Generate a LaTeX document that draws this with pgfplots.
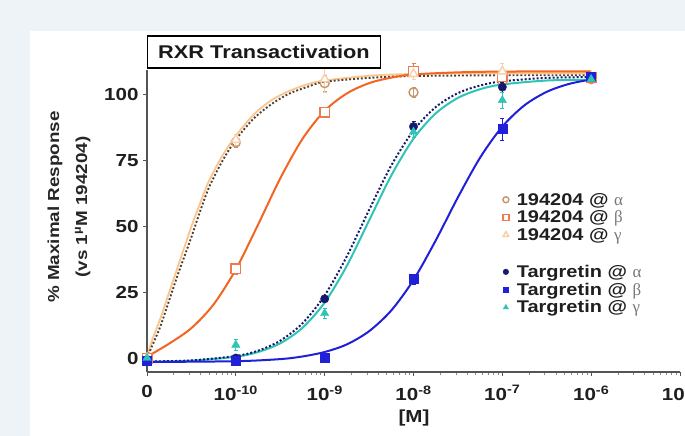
\documentclass[border=0pt]{standalone}
\usepackage{pgfplots}
\usepackage{pgfplotstable}
\pgfplotsset{compat=1.18}
\usepackage{fontspec}
\setmainfont{Liberation Sans}[FakeStretch=1.18]
\newfontfamily\greekfont{Liberation Serif}
\definecolor{bgblue}{HTML}{EEF3F8}
\definecolor{axisgray}{HTML}{555555}
\definecolor{tanc}{HTML}{C8946A}
\definecolor{dotbrown}{HTML}{4F4030}
\definecolor{orangec}{HTML}{F26522}
\definecolor{orangem}{HTML}{F07A50}
\definecolor{peach}{HTML}{FBC58C}
\definecolor{peachm}{HTML}{F7CFA8}
\definecolor{navyc}{HTML}{161A6E}
\definecolor{bluec}{HTML}{2020D8}
\definecolor{tealc}{HTML}{30C4B4}
\definecolor{greekgray}{HTML}{777777}

% ---- fitted curves (x = log10 [M]) ----
\pgfplotstableread{
lx y
-11 0
-10.95 4
-10.85 12
-10.75 22
-10.65 32
-10.5 46
-10.4 56
-10.3 65
-10.15 75
-10 83
-9.8 91
-9.6 96.5
-9.4 100.5
-9.2 103
-9 105
-8.5 106.5
-8 107.2
-7 107.5
-6 107.5
}\curveAa
\pgfplotstableread{
lx y
-11 0.5
-10.75 5.5
-10.5 11.4
-10.25 20.4
-10 33.7
-9.75 50.7
-9.5 68.3
-9.25 83.3
-9 94
-8.75 100.6
-8.5 104.5
-8.25 106.6
-8 107.8
-7.5 108.6
-7 108.9
-6 109
}\curveAb
\pgfplotstableread{
lx y
-11 0
-10.95 6
-10.85 15
-10.75 25
-10.65 35
-10.5 50
-10.4 59
-10.3 67.5
-10.15 77
-10 84.5
-9.8 92.5
-9.6 98
-9.4 101.5
-9.2 104
-9 105.5
-8.5 107.3
-8 108
-7 108.3
-6 108.3
}\curveAg
\pgfplotstableread{
lx y
-11 -1.3
-10.5 -0.9
-10 0.8
-9.75 2.8
-9.5 6.6
-9.25 13.2
-9 23.8
-8.75 38.7
-8.5 56.3
-8.25 73.2
-8 86.5
-7.75 95.4
-7.5 100.7
-7.25 103.6
-7 105.2
-6.5 106.5
-6 106.8
}\curveTa
\pgfplotstableread{
lx y
-11 -1.5
-10 -1.2
-9.5 -0.4
-9.25 0.6
-9 2.3
-8.75 5.2
-8.5 10.2
-8.25 18.1
-8 29.7
-7.75 44.7
-7.5 61.1
-7.25 76.2
-7 88
-6.75 96.1
-6.5 101.2
-6.25 104.2
-6 105.9
}\curveTb
\pgfplotstableread{
lx y
-11 -1.4
-10.5 -1
-10 0.5
-9.75 2.3
-9.5 5.6
-9.25 11.5
-9 21.1
-8.75 35.1
-8.5 52.3
-8.25 69.4
-8 83.4
-7.75 93
-7.5 98.9
-7.25 102.2
-7 104
-6.5 105.5
-6 105.8
}\curveTg

% ---- measured points ----
\pgfplotstableread{
lx y e
-11 0 0
-10 82 2
-9 104.5 3
-8 101 2
-7 105 2
-6 106 1
}\dataAa
\pgfplotstableread{
lx y e
-11 0 0
-10 34 2
-9 93.5 2
-8 109 3
-7 107 2
-6 106.5 1
}\dataAb
\pgfplotstableread{
lx y e
-11 0 0
-10 83 2
-9 106 5
-8 108 2
-7 109 3
-6 107 1
}\dataAg
\pgfplotstableread{
lx y e
-11 -1 0
-10 0 1
-9 22.5 1
-8 88 2
-7 103 2
-6 107 1
}\dataTa
\pgfplotstableread{
lx y e
-11 -1 0
-10 -1 0
-9 0 1
-8 30 2
-7 87 4
-6 107 1
}\dataTb
\pgfplotstableread{
lx y e
-11 0 0
-10 5 2
-9 17 2
-8 86 2
-7 98 3
-6 106 1
}\dataTg

\begin{document}
\begin{tikzpicture}
\fill[bgblue] (0,0) rectangle (685bp,436bp);
\fill[white] (30bp,0) rectangle (685bp,405bp);
\path[use as bounding box] (0,0) rectangle (685bp,436bp);
\begin{axis}[
  at={(147bp,64bp)}, anchor=south west,
  scale only axis, width=533bp, height=302bp,
  xmin=-11, xmax=-5, ymin=-5.3, ymax=109.5,
  axis x line=bottom, axis y line=left,
  axis line style={-, draw=axisgray, line width=1.1bp},
  xtick={-11,-10,-9,-8,-7,-6,-5},
  xticklabels={0,10\textsuperscript{-10},10\textsuperscript{-9},10\textsuperscript{-8},10\textsuperscript{-7},10\textsuperscript{-6},10\textsuperscript{-5}},
  minor xtick={-10.699,-10.523,-10.398,-10.301,-10.222,-10.155,-10.097,-10.046,
   -9.699,-9.523,-9.398,-9.301,-9.222,-9.155,-9.097,-9.046,
   -8.699,-8.523,-8.398,-8.301,-8.222,-8.155,-8.097,-8.046,
   -7.699,-7.523,-7.398,-7.301,-7.222,-7.155,-7.097,-7.046,
   -6.699,-6.523,-6.398,-6.301,-6.222,-6.155,-6.097,-6.046,
   -5.699,-5.523,-5.398,-5.301,-5.222,-5.155,-5.097,-5.046},
  ytick={0,25,50,75,100},
  yticklabels={0,25,50,75,100},
  tick align=outside,
  major tick length=4bp, minor tick length=2.5bp,
  every tick/.style={draw=axisgray, line width=1bp},
  minor tick style={draw=axisgray!70, line width=0.6bp},
  tick label style={font=\fontsize{17.5}{17.5}\selectfont\bfseries, text=black!88},
  xticklabel style={yshift=-6bp},
  yticklabel style={xshift=-1bp},
  clip=false,
  legend cell align=left,
  legend style={at={(0.657,0.6)}, anchor=north west, draw=none, fill=none,
    font=\fontsize{17}{17}\selectfont\bfseries, text=black!88,
    row sep=0bp, inner sep=0pt,
    /tikz/every odd column/.append style={column sep=6bp}},
]
% curves
\addplot[peach, line width=1.8bp, smooth, forget plot] table[x=lx,y=y]{\curveAg};
\addplot[dotbrown, line width=1.9bp, dotted, smooth, forget plot] table[x=lx,y=y]{\curveAa};
\addplot[orangec, line width=2bp, smooth, forget plot] table[x=lx,y=y]{\curveAb};
\addplot[tealc, line width=2bp, smooth, forget plot] table[x=lx,y=y]{\curveTg};
\addplot[navyc, line width=2bp, dotted, smooth, forget plot] table[x=lx,y=y]{\curveTa};
\addplot[bluec, line width=2bp, smooth, forget plot] table[x=lx,y=y]{\curveTb};
% points
\addplot[only marks, mark=o, mark size=4.5bp, mark options={draw=tanc, fill=white, line width=1.4bp},
  legend image post style={mark size=3bp},
  error bars/.cd, y dir=both, y explicit, error bar style={tanc, line width=1bp}, error mark options={rotate=90, mark size=2bp, tanc}]
  table[x=lx,y=y,y error=e]{\dataAa};
\addlegendentry{194204 @ {\greekfont\mdseries\color{greekgray}α}}
\addplot[only marks, mark=square*, mark size=4.8bp, mark options={draw=orangem, fill=white, line width=1.4bp},
  legend image post style={mark size=3bp},
  error bars/.cd, y dir=both, y explicit, error bar style={orangem, line width=1bp}, error mark options={rotate=90, mark size=2bp, orangem}]
  table[x=lx,y=y,y error=e]{\dataAb};
\addlegendentry{194204 @ {\greekfont\mdseries\color{greekgray}β}}
\addplot[only marks, mark=triangle*, mark size=5bp, mark options={draw=peachm, fill=white, line width=1.4bp},
  legend image post style={mark size=3.2bp},
  error bars/.cd, y dir=both, y explicit, error bar style={peachm, line width=1bp}, error mark options={rotate=90, mark size=2bp, peachm}]
  table[x=lx,y=y,y error=e]{\dataAg};
\addlegendentry{194204 @ {\greekfont\mdseries\color{greekgray}γ}}
\addlegendimage{empty legend}
\addlegendentry{\rule{0pt}{14bp}}
\addplot[only marks, mark=*, mark size=4.2bp, mark options={draw=navyc, fill=navyc},
  legend image post style={mark size=2.8bp},
  error bars/.cd, y dir=both, y explicit, error bar style={navyc, line width=1bp}, error mark options={rotate=90, mark size=2bp, navyc}]
  table[x=lx,y=y,y error=e]{\dataTa};
\addlegendentry{Targretin @ {\greekfont\mdseries\color{greekgray}α}}
\addplot[only marks, mark=square*, mark size=4.5bp, mark options={draw=bluec, fill=bluec},
  legend image post style={mark size=2.8bp},
  error bars/.cd, y dir=both, y explicit, error bar style={bluec, line width=1bp}, error mark options={rotate=90, mark size=2bp, bluec}]
  table[x=lx,y=y,y error=e]{\dataTb};
\addlegendentry{Targretin @ {\greekfont\mdseries\color{greekgray}β}}
\addplot[only marks, mark=triangle*, mark size=4.8bp, mark options={draw=tealc, fill=tealc},
  legend image post style={mark size=3bp},
  error bars/.cd, y dir=both, y explicit, error bar style={tealc, line width=1bp}, error mark options={rotate=90, mark size=2bp, tealc}]
  table[x=lx,y=y,y error=e]{\dataTg};
\addlegendentry{Targretin @ {\greekfont\mdseries\color{greekgray}γ}}
\end{axis}
% title box
\node[draw=black, line width=1.5bp, fill=white, minimum width=233bp, minimum height=32bp, inner sep=0pt,
  font=\fontsize{18.5}{18.5}\selectfont\bfseries, text=black!90] at (264bp,384bp) {RXR Transactivation};
% y label
\node[rotate=90, align=center, font=\fontsize{16}{28}\selectfont\bfseries, text=black!85] at (69bp,229bp)
  {\% Maximal Response\\(vs 1\textsuperscript{µ}M 194204)};
% x label
\node[font=\fontsize{17.5}{17.5}\selectfont\bfseries, text=black!88] at (414bp,18bp) {[M]};
\end{tikzpicture}
\end{document}
